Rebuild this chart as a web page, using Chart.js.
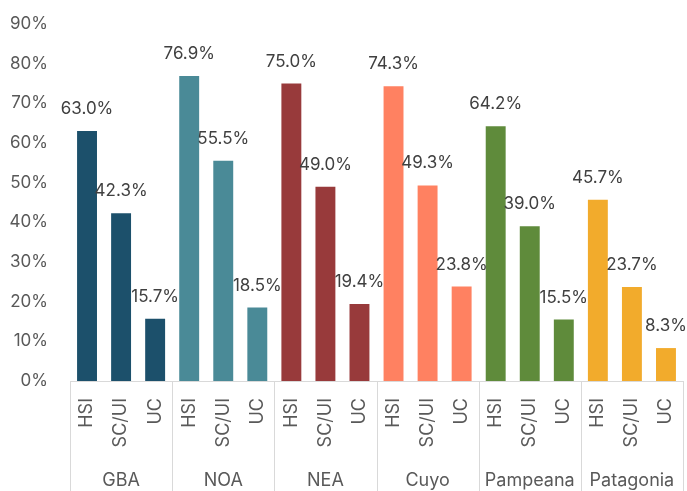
<!DOCTYPE html>
<html>
<head>
<meta charset="utf-8">
<script src="https://cdn.jsdelivr.net/npm/chart.js@4/dist/chart.umd.min.js"></script>
<style>
  html, body { margin: 0; padding: 0; background: #fff; }
  #wrap { width: 687px; height: 491px; }
</style>
</head>
<body>
<div id="wrap"><canvas id="myChart"></canvas></div>
<script>
// data
const regions = ['GBA', 'NOA', 'NEA', 'Cuyo', 'Pampeana', 'Patagonia']
const measures = ['HSI', 'SC/UI', 'UC']
const gba = [63.0, 42.3, 15.7]
const noa = [76.9, 55.5, 18.5]
const nea = [75.0, 49.0, 19.4]
const cuyo = [74.3, 49.3, 23.8]
const pampeana = [64.2, 39.0, 15.5]
const patagonia = [45.7, 23.7, 8.3]
const regionColors = ['#1C506B', '#4A8A97', '#983A3B', '#FF8161', '#5F8B3B', '#F2AB2C']

var allValues = [gba, noa, nea, cuyo, pampeana, patagonia]
var labelsArray = []
var valuesArray = []
var colorsArray = []
for (let r = 0; r < regions.length; r++) {
  for (let m = 0; m < measures.length; m++) {
    labelsArray.push(measures[m])
    valuesArray.push(allValues[r][m])
    colorsArray.push(regionColors[r])
  }
}

const FONT = 'Inter, "Open Sans", sans-serif'

// labels above the bars
const valueLabels = {
  id: 'valueLabels',
  afterDatasetsDraw(chart) {
    const ctx = chart.ctx
    const meta = chart.getDatasetMeta(0)
    ctx.save()
    ctx.font = '17px ' + FONT
    ctx.fillStyle = '#404040'
    ctx.textAlign = 'center'
    ctx.textBaseline = 'alphabetic'
    meta.data.forEach((bar, i) => {
      ctx.fillText(valuesArray[i].toFixed(1) + '%', bar.x, bar.y - 17)
    })
    ctx.restore()
  }
}

// vertical separators between the region groups
const groupLines = {
  id: 'groupLines',
  afterDraw(chart) {
    const x = chart.scales.x
    const ctx = chart.ctx
    const step = x.width / labelsArray.length
    ctx.save()
    ctx.strokeStyle = '#d9d9d9'
    ctx.lineWidth = 1
    for (let i = 0; i <= labelsArray.length; i += measures.length) {
      const px = Math.round(x.left + step * i) + 0.5
      ctx.beginPath()
      ctx.moveTo(px, x.top)
      ctx.lineTo(px, chart.height)
      ctx.stroke()
    }
    ctx.restore()
  }
}

function noPad(s) {
  s.paddingLeft = 0
  s.paddingRight = 0
  s.paddingTop = 0
  s.paddingBottom = 0
}

new Chart(document.getElementById('myChart'), {
  type: 'bar',
  data: {
    labels: labelsArray,
    datasets: [{
      data: valuesArray,
      backgroundColor: colorsArray,
      barPercentage: 0.585,
      categoryPercentage: 1
    }]
  },
  options: {
    responsive: true,
    maintainAspectRatio: false,
    animation: false,
    layout: { padding: { top: 24, right: 4, left: 0, bottom: 0 } },
    plugins: { legend: { display: false }, tooltip: { enabled: false } },
    scales: {
      y: {
        min: 0,
        max: 90,
        afterFit: s => { s.width = 70; noPad(s) },
        border: { display: false },
        grid: { display: false, drawTicks: false },
        ticks: {
          stepSize: 10,
          padding: 22,
          color: '#595959',
          font: { size: 17, family: FONT },
          callback: v => v + '%'
        }
      },
      x: {
        afterFit: s => { s.height = 84; noPad(s) },
        border: { display: true, color: '#d9d9d9' },
        grid: { display: false, drawTicks: false },
        ticks: {
          autoSkip: false,
          maxRotation: 90,
          minRotation: 90,
          padding: 17,
          color: '#595959',
          font: { size: 18, family: FONT }
        }
      },
      x2: {
        type: 'category',
        labels: regions,
        position: 'bottom',
        offset: true,
        afterFit: s => { s.height = 26; noPad(s) },
        border: { display: false },
        grid: { display: false, drawTicks: false },
        ticks: {
          autoSkip: false,
          maxRotation: 0,
          padding: 5,
          color: '#595959',
          font: { size: 18, family: FONT }
        }
      }
    }
  },
  plugins: [valueLabels, groupLines]
})
</script>
</body>
</html>
